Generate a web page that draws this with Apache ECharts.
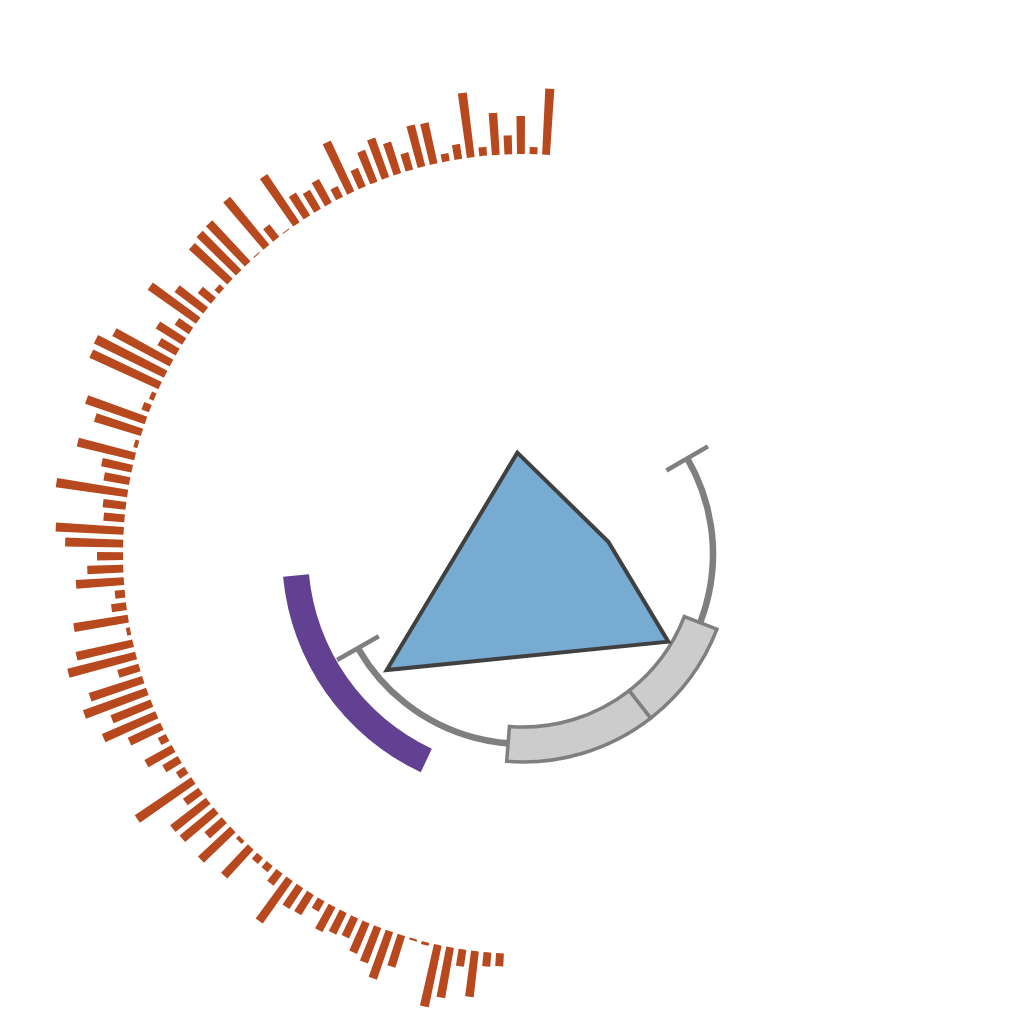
<!DOCTYPE html>
<html>
<head>
<meta charset="utf-8">
<script src="https://cdn.jsdelivr.net/npm/echarts@6/dist/echarts.min.js"></script>
<style>
html,body{margin:0;padding:0;background:#ffffff;}
#chart{width:1024px;height:1024px;}
</style>
</head>
<body>
<div id="chart"></div>
<script>
// ---- data ----
// outer ring: bar values (one per angular slot, counter-clockwise from the top)
const orangeValues = [
  66, 7, 38, 19, 42, 9, 65, 15, 8, 42,
  43, 18, 33, 42, 34, 20, 56, 12, 27, 22,
  27, 58, 1, 16, 62, 1, 56, 55, 52, 6,
  17, 36, 59, 17, 31, 21, 65, 78, 76, 5,
  8, 63, 49, 4, 59, 31, 26, 72, 23, 21,
  68, 58, 26, 36, 48, 10, 15, 55, 4, 58,
  70, 22, 56, 67, 43, 58, 36, 9, 31, 18,
  10, 68, 19, 45, 44, 23, 44, 4, 39, 8,
  8, 15, 52, 25, 24, 12, 28, 24, 22, 33,
  38, 50, 33, 2, 3, 63, 51, 17, 46, 14,
  13
];
const orangeSlotCount = 200;
const orangeCategories = [];
for (let i = 0; i < orangeSlotCount; i++) orangeCategories.push('s' + i);

// inner polygon (radius, angle in degrees)
const polygonRadius = [101.5, 86.2, 169.7, 179];
const polygonAngle = [93.2, 8.2, 328.9, 220.4];

// error arc
const errorRadius = [190];
const errorAngleStart = [209.7];
const errorAngleEnd = [30.2];

// grey stacked arc bar
const greyBase = [265.5];
const greySegA = [42.4];
const greySegB = [30.9];

// purple arc bar
const purpleBase = [185.4];
const purpleSpan = [59.5];

// ---- chart ----
const CENTER = [523, 554];
const chart = echarts.init(document.getElementById('chart'), null, {renderer: 'canvas'});

function screenAngle(p, c) { return Math.atan2(p[1] - c[1], p[0] - c[0]); }

const option = {
  backgroundColor: '#ffffff',
  animation: false,
  polar: [
    {center: CENTER, radius: [400, 480]},
    {center: CENTER, radius: [0, 250]},
    {center: CENTER, radius: [173, 208]},
    {center: CENTER, radius: [215, 241]}
  ],
  angleAxis: [
    {polarIndex: 0, type: 'category', data: orangeCategories, startAngle: 85.8, clockwise: false, show: false},
    {polarIndex: 1, type: 'value', min: 0, max: 360, startAngle: 0, clockwise: false, show: false},
    {polarIndex: 2, type: 'value', min: 0, max: 360, startAngle: 0, clockwise: false, show: false},
    {polarIndex: 3, type: 'value', min: 0, max: 360, startAngle: 0, clockwise: false, show: false}
  ],
  radiusAxis: [
    {polarIndex: 0, type: 'value', min: 0, max: 80, show: false},
    {polarIndex: 1, type: 'value', min: 0, max: 250, show: false},
    {polarIndex: 2, type: 'category', data: ['grey'], show: false},
    {polarIndex: 3, type: 'category', data: ['purple'], show: false}
  ],
  series: [
    {
      type: 'bar', coordinateSystem: 'polar', polarIndex: 0,
      data: orangeValues, barWidth: '62%', silent: true, z: 2,
      itemStyle: {color: '#b8491e'}
    },
    {
      type: 'custom', coordinateSystem: 'polar', polarIndex: 1, silent: true, z: 3,
      data: errorRadius.map((r, i) => [r, errorAngleStart[i], errorAngleEnd[i]]),
      renderItem: function (params, api) {
        const r = api.value(0), a0 = api.value(1), a1 = api.value(2);
        const c = api.coord([0, 0]);
        const p0 = api.coord([r, a0]);
        const p1 = api.coord([r, a1]);
        const rad = Math.hypot(p0[0] - c[0], p0[1] - c[1]);
        const cap = 24;
        const capLine = function (a) {
          const q0 = api.coord([r - cap, a]);
          const q1 = api.coord([r + cap, a]);
          return {type: 'line', shape: {x1: q0[0], y1: q0[1], x2: q1[0], y2: q1[1]},
                  style: {stroke: '#7f7f7f', lineWidth: 4.5}};
        };
        return {
          type: 'group',
          children: [
            {type: 'arc', shape: {cx: c[0], cy: c[1], r: rad,
              startAngle: screenAngle(p1, c), endAngle: screenAngle(p0, c), clockwise: true},
              style: {stroke: '#7f7f7f', lineWidth: 6.5, fill: null}},
            capLine(a0), capLine(a1)
          ]
        };
      }
    },
    {
      type: 'bar', coordinateSystem: 'polar', polarIndex: 2, stack: 'grey',
      data: greyBase, barWidth: '100%', silent: true, z: 4,
      itemStyle: {color: 'rgba(0,0,0,0)'}
    },
    {
      type: 'bar', coordinateSystem: 'polar', polarIndex: 2, stack: 'grey',
      data: greySegA, barWidth: '100%', silent: true, z: 4,
      itemStyle: {color: '#cccccc', borderColor: '#7f7f7f', borderWidth: 3.5}
    },
    {
      type: 'bar', coordinateSystem: 'polar', polarIndex: 2, stack: 'grey',
      data: greySegB, barWidth: '100%', silent: true, z: 4,
      itemStyle: {color: '#cccccc', borderColor: '#7f7f7f', borderWidth: 3.5}
    },
    {
      type: 'bar', coordinateSystem: 'polar', polarIndex: 3, stack: 'purple',
      data: purpleBase, barWidth: '100%', silent: true, z: 4,
      itemStyle: {color: 'rgba(0,0,0,0)'}
    },
    {
      type: 'bar', coordinateSystem: 'polar', polarIndex: 3, stack: 'purple',
      data: purpleSpan, barWidth: '100%', silent: true, z: 4,
      itemStyle: {color: '#634192'}
    },
    {
      type: 'custom', coordinateSystem: 'polar', polarIndex: 1, silent: true, z: 5,
      data: polygonRadius.map((r, i) => [r, polygonAngle[i]]),
      renderItem: function (params, api) {
        if (params.dataIndex !== 0) return null;
        const pts = polygonRadius.map((r, i) => api.coord([r, polygonAngle[i]]));
        return {type: 'polygon', shape: {points: pts},
                style: {fill: '#77abd1', stroke: '#404040', lineWidth: 4, lineJoin: 'miter'}};
      }
    }
  ]
};
chart.setOption(option);
</script>
</body>
</html>
